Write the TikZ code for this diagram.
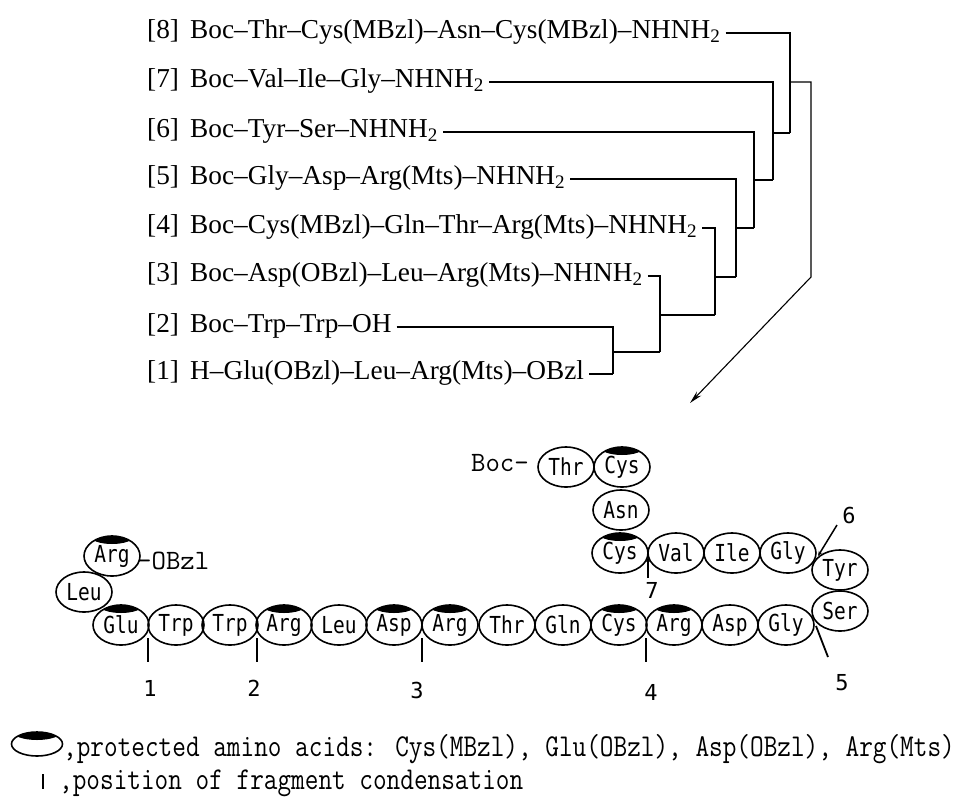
\documentclass[tikz,border=0pt]{standalone}
\usepackage{fontspec}
\usepackage{graphicx}
\setmainfont{Liberation Serif}
\newfontface\resfont{DejaVu Sans Mono}
\usetikzlibrary{arrows.meta,calc,shapes.geometric}
\newcommand{\tallres}[1]{\scalebox{1}[1.2]{#1}}
\newcommand{\twfont}{\ttfamily\addfontfeature{FakeBold=2}}
\begin{document}
\begin{tikzpicture}[x=1pt,y=-1pt,
  frag/.style={anchor=base west,inner sep=0pt,font=\fontsize{27.3}{30}\selectfont},
  conn/.style={line width=1.1pt},
  res/.style={ellipse,draw,line width=1.6pt,minimum width=56pt,minimum height=40pt,inner sep=0pt,
              font=\resfont\fontsize{19.5}{20}\selectfont},
  prot/.style={res,path picture={\fill ([yshift=0pt]path picture bounding box.north) ellipse (22pt and 8pt);}},
  cond/.style={line width=1.8pt},
  num/.style={inner sep=0pt,font=\resfont\fontsize{22}{24}\selectfont},
  tw/.style={inner sep=0pt,font=\fontsize{28}{30}\selectfont\twfont},
  legtext/.style={anchor=base west,inner sep=0pt,font=\fontsize{26.5}{28}\selectfont\twfont}]
\useasboundingbox (0,0) rectangle (970,796);

% ---------- fragment list ----------
\node[frag] (l8) at (147,38)  {[8]};
\node[frag] (l7) at (147,87)  {[7]};
\node[frag] (l6) at (147,137) {[6]};
\node[frag] (l5) at (147,184) {[5]};
\node[frag] (l4) at (147,233) {[4]};
\node[frag] (l3) at (147,281) {[3]};
\node[frag] (l2) at (147,332) {[2]};
\node[frag] (l1) at (147,379) {[1]};

\node[frag] (f8) at (190,38)  {Boc--Thr--Cys(MBzl)--Asn--Cys(MBzl)--NHNH\textsubscript{2}};
\node[frag] (f7) at (190,87)  {Boc--Val--Ile--Gly--NHNH\textsubscript{2}};
\node[frag] (f6) at (190,137) {Boc--Tyr--Ser--NHNH\textsubscript{2}};
\node[frag] (f5) at (190,184) {Boc--Gly--Asp--Arg(Mts)--NHNH\textsubscript{2}};
\node[frag] (f4) at (190,233) {Boc--Cys(MBzl)--Gln--Thr--Arg(Mts)--NHNH\textsubscript{2}};
\node[frag] (f3) at (190,281) {Boc--Asp(OBzl)--Leu--Arg(Mts)--NHNH\textsubscript{2}};
\node[frag] (f2) at (190,332) {Boc--Trp--Trp--OH};
\node[frag] (f1) at (190,379) {H--Glu(OBzl)--Leu--Arg(Mts)--OBzl};

\foreach \k in {1,...,8} {\coordinate (e\k) at ($(f\k.base east)+(5,-5)$);}

\coordinate (b1) at (613,374);
\coordinate (j2) at (613,352);
\coordinate (b3) at (660,352);
\coordinate (j3) at (660,315);
\coordinate (b4) at (715,315);
\coordinate (j4) at (715,277);
\coordinate (b5) at (736,277);
\coordinate (j5) at (736,228);
\coordinate (b6) at (754,228);
\coordinate (j6) at (754,180);
\coordinate (b7) at (773,180);
\coordinate (j7) at (773,133);
\coordinate (b8) at (790,133);
\coordinate (j8) at (790,82);
\coordinate (o1) at (811,82);
\coordinate (o2) at (811,277);
\coordinate (o3) at (690,403);

\draw[conn] (e1) -- (b1);
\draw[conn] (e2) -| (b1);
\draw[conn] (j2) -- (b3);
\draw[conn] (e3) -| (b3);
\draw[conn] (j3) -- (b4);
\draw[conn] (e4) -| (b4);
\draw[conn] (j4) -- (b5);
\draw[conn] (e5) -| (b5);
\draw[conn] (j5) -- (b6);
\draw[conn] (e6) -| (b6);
\draw[conn] (j6) -- (b7);
\draw[conn] (e7) -| (b7);
\draw[conn] (j7) -- (b8);
\draw[conn] (e8) -| (b8);
\draw[conn,-{Stealth[length=13pt,width=6pt]}] (j8) -- (o1) -- (o2) -- (o3);

% ---------- peptide chain ----------
\node[prot] (a1)  at (121,625) {\tallres{Glu}};
\node[res]  (a2)  at (176,625) {\tallres{Trp}};
\node[res]  (a3)  at (230,625) {\tallres{Trp}};
\node[prot] (a4)  at (284,625) {\tallres{Arg}};
\node[res]  (a5)  at (339,625) {\tallres{Leu}};
\node[prot] (a6)  at (394,625) {\tallres{Asp}};
\node[prot] (a7)  at (450,625) {\tallres{Arg}};
\node[res]  (a8)  at (507,625) {\tallres{Thr}};
\node[res]  (a9)  at (563,625) {\tallres{Gln}};
\node[prot] (a10) at (619,625) {\tallres{Cys}};
\node[prot] (a11) at (674,625) {\tallres{Arg}};
\node[res]  (a12) at (730,625) {\tallres{Asp}};
\node[res]  (a13) at (786,625) {\tallres{Gly}};
\node[res]  (a14) at (840,611) {\tallres{Ser}};
\node[res]  (a15) at (840,570) {\tallres{Tyr}};
\node[res]  (a16) at (788,553) {\tallres{Gly}};
\node[res]  (a17) at (732,553) {\tallres{Ile}};
\node[res]  (a18) at (676,553) {\tallres{Val}};
\node[prot] (a19) at (620,553) {\tallres{Cys}};
\node[res]  (a20) at (621,510) {\tallres{Asn}};
\node[prot] (a21) at (622,467) {\tallres{Cys}};
\node[res]  (a22) at (566,467) {\tallres{Thr}};
\node[res]  (a0)  at (84,592)  {\tallres{Leu}};
\node[prot] (am)  at (112,556) {\tallres{Arg}};

\node[tw,anchor=east] (boc) at (529,463) {Boc-};
\node[tw,anchor=west] (obzl) at (137,561) {-OBzl};

% ---------- condensation positions ----------
\coordinate (c1a) at (148,638); \coordinate (c1b) at (148,662);
\coordinate (c2a) at (257,638); \coordinate (c2b) at (257,662);
\coordinate (c3a) at (422,638); \coordinate (c3b) at (422,662);
\coordinate (c4a) at (646,638); \coordinate (c4b) at (646,662);
\coordinate (c5a) at (816,626); \coordinate (c5b) at (828,657);
\coordinate (c6a) at (837,525); \coordinate (c6b) at (818,556);
\coordinate (c7a) at (648,578); \coordinate (c7b) at (648,557);
\draw[cond] (c1a) -- (c1b);
\draw[cond] (c2a) -- (c2b);
\draw[cond] (c3a) -- (c3b);
\draw[cond] (c4a) -- (c4b);
\draw[cond] (c5a) -- (c5b);
\draw[line width=1.5pt,-{Stealth[length=5pt,width=4pt]}] (c6a) -- (c6b);
\draw[line width=1.5pt,-{Stealth[length=5pt,width=4pt]}] (c7a) -- (c7b);

\node[num] (n1) at (150,688) {1};
\node[num] (n2) at (254,688) {2};
\node[num] (n3) at (417,690) {3};
\node[num] (n4) at (651,692) {4};
\node[num] (n5) at (842,683) {5};
\node[num] (n6) at (849,515) {6};
\node[num] (n7) at (652,590) {7};

% ---------- legend ----------
\node[ellipse,draw,line width=1.6pt,minimum width=51pt,minimum height=24pt,inner sep=0pt,
      path picture={\fill ([yshift=1pt]path picture bounding box.north) ellipse (25pt and 9pt);}] (lg) at (37,744) {};
\node[legtext] (lt1) at (63,756) {\scalebox{1}[1.2]{,protected amino acids: Cys(MBzl), Glu(OBzl), Asp(OBzl), Arg(Mts)}};
\coordinate (lb1) at (43,774); \coordinate (lb2) at (43,789);
\draw[cond] (lb1) -- (lb2);
\node[legtext] (lt2) at (59,789) {\scalebox{1}[1.2]{,position of fragment condensation}};
\end{tikzpicture}
\end{document}
